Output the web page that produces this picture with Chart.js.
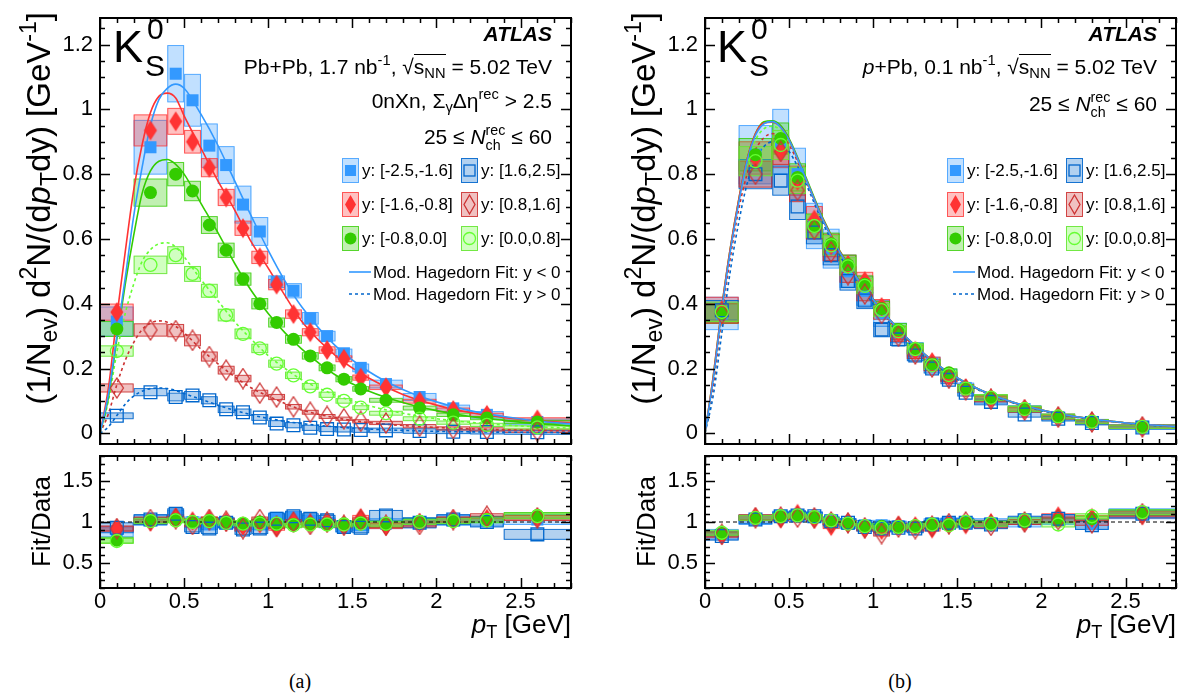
<!DOCTYPE html>
<html>
<head>
<meta charset="utf-8">
<title>K0S spectra, Pb+Pb and p+Pb</title>
<script src="https://cdn.jsdelivr.net/npm/chart.js@4.4.1/dist/chart.umd.min.js"></script>
<style>
  body { margin: 0; background: #fff; }
  #page { position: relative; width: 1189px; height: 698px; overflow: hidden; font-family: "Liberation Sans", Arial, sans-serif; color: #000; }
  canvas { position: absolute; }
  .t { position: absolute; white-space: nowrap; line-height: 1; }
  .t sub, .t sup { font-size: 70%; line-height: 0; }
  .t sub { vertical-align: -0.3em; }
  .t sup { vertical-align: 0.6em; }
  .rot { transform: rotate(-90deg); transform-origin: 0 0; text-align: right; }
  .ss { display: inline-block; font-size: 68%; line-height: 1.05; vertical-align: -0.45em; text-align: left; }
  .rad { border-top: 1.5px solid #000; }
  .leg { position: absolute; font-size: 17px; line-height: 1; white-space: nowrap; }
  .cap { position: absolute; width: 100px; text-align: center; font-family: "Liberation Serif", "Times New Roman", serif; font-size: 20px; }
</style>
</head>
<body>
<div id="page">
  <canvas id="mainA" width="600" height="462" style="left:0;top:0"></canvas>
  <canvas id="ratioA" width="600" height="190" style="left:0;top:438px"></canvas>
  <canvas id="mainB" width="584" height="462" style="left:605px;top:0"></canvas>
  <canvas id="ratioB" width="584" height="190" style="left:605px;top:438px"></canvas>

  <!-- panel (a) labels -->
  <div class="t" style="left:113px;top:24px;font-size:45px">K</div>
  <div class="t" style="left:147px;top:14px;font-size:30px">0</div>
  <div class="t" style="left:145px;top:51px;font-size:30px">S</div>
  <div class="t" style="right:637px;top:23px;font-size:21px;font-weight:bold;font-style:italic">ATLAS</div>
  <div class="t" style="right:637px;top:56px;font-size:21px">Pb+Pb, 1.7 nb<sup>-1</sup>, √<span class="rad">s<sub>NN</sub></span> = 5.02 TeV</div>
  <div class="t" style="right:637px;top:90px;font-size:21px">0nXn, Σ<sub>γ</sub>Δη<sup>rec</sup> &gt; 2.5</div>
  <div class="t" style="right:637px;top:123px;font-size:21px">25 ≤ <i>N</i><span class="ss">rec<br>ch</span> ≤ 60</div>
  <div class="t rot" style="left:22px;top:432px;width:420px;font-size:33px">(1/N<sub>ev</sub>) d<sup>2</sup>N/(d<i>p</i><sub>T</sub>dy) [GeV<sup>-1</sup>]</div>
  <div class="t rot" style="left:28px;top:596px;width:120px;font-size:26px">Fit/Data</div>
  <div class="t" style="right:618px;top:611px;font-size:26px"><i>p</i><sub>T</sub> [GeV]</div>
  <div class="cap" style="left:250px;top:670px">(a)</div>

  <!-- panel (b) labels -->
  <div class="t" style="left:717px;top:24px;font-size:45px">K</div>
  <div class="t" style="left:751px;top:14px;font-size:30px">0</div>
  <div class="t" style="left:749px;top:51px;font-size:30px">S</div>
  <div class="t" style="right:32px;top:23px;font-size:21px;font-weight:bold;font-style:italic">ATLAS</div>
  <div class="t" style="right:32px;top:56px;font-size:21px"><i>p</i>+Pb, 0.1 nb<sup>-1</sup>, √<span class="rad">s<sub>NN</sub></span> = 5.02 TeV</div>
  <div class="t" style="right:32px;top:90px;font-size:21px">25 ≤ <i>N</i><span class="ss">rec<br>ch</span> ≤ 60</div>
  <div class="t rot" style="left:627px;top:432px;width:420px;font-size:33px">(1/N<sub>ev</sub>) d<sup>2</sup>N/(d<i>p</i><sub>T</sub>dy) [GeV<sup>-1</sup>]</div>
  <div class="t rot" style="left:633px;top:596px;width:120px;font-size:26px">Fit/Data</div>
  <div class="t" style="right:13px;top:611px;font-size:26px"><i>p</i><sub>T</sub> [GeV]</div>
  <div class="cap" style="left:850px;top:670px">(b)</div>
</div>

<script>
// pT binning
const ptEdges = [0, 0.2, 0.4, 0.5, 0.6, 0.7, 0.8, 0.9, 1.0, 1.1, 1.2, 1.3, 1.4, 1.5, 1.6, 1.8, 2.0, 2.2, 2.4, 2.8];
const ptCenters = [0.1, 0.3, 0.45, 0.55, 0.65, 0.75, 0.85, 0.95, 1.05, 1.15, 1.25, 1.35, 1.45, 1.55, 1.7, 1.9, 2.1, 2.3, 2.6];
const fitPt = [0, 0.05, 0.1, 0.15, 0.2, 0.25, 0.3, 0.35, 0.4, 0.45, 0.5, 0.6, 0.7, 0.8, 0.9, 1.0, 1.1, 1.2, 1.4, 1.6, 1.8, 2.0, 2.2, 2.4, 2.6, 2.8];
const yBins = ['y: [-2.5,-1.6]', 'y: [-1.6,-0.8]', 'y: [-0.8,0.0]', 'y: [1.6,2.5]', 'y: [0.8,1.6]', 'y: [0.0,0.8]'];
const fitLabels = ['Mod. Hagedorn Fit: y < 0', 'Mod. Hagedorn Fit: y > 0'];

// tick labels
const specTicks = [0, 0.2, 0.4, 0.6, 0.8, 1, 1.2];
const ratioTicks = [0.5, 1, 1.5];
const ptTicks = [0, 0.5, 1, 1.5, 2, 2.5];

// (a) Pb+Pb spectra
const pbpbYm25 = [0.345, 0.883, 1.11, 1.028, 0.888, 0.828, 0.706, 0.623, 0.468, 0.440, 0.355, 0.300, 0.247, 0.202, 0.152, 0.112, 0.077, 0.057, 0.035];
const pbpbYm16 = [0.374, 0.935, 0.963, 0.900, 0.820, 0.728, 0.633, 0.543, 0.459, 0.368, 0.312, 0.257, 0.230, 0.172, 0.142, 0.099, 0.072, 0.057, 0.043];
const pbpbYm08 = [0.322, 0.743, 0.800, 0.748, 0.643, 0.565, 0.476, 0.400, 0.342, 0.290, 0.239, 0.202, 0.167, 0.137, 0.102, 0.078, 0.057, 0.047, 0.035];
const pbpbYp16 = [0.054, 0.127, 0.112, 0.117, 0.102, 0.074, 0.065, 0.049, 0.030, 0.025, 0.017, 0.013, 0.012, 0.010, 0.009, 0.007, 0.005, 0.004, 0.003];
const pbpbYp08 = [0.140, 0.319, 0.317, 0.287, 0.237, 0.195, 0.169, 0.124, 0.112, 0.082, 0.065, 0.052, 0.045, 0.037, 0.032, 0.022, 0.015, 0.012, 0.008];
const pbpbYp00 = [0.254, 0.520, 0.550, 0.492, 0.440, 0.365, 0.307, 0.262, 0.215, 0.179, 0.145, 0.119, 0.100, 0.079, 0.062, 0.045, 0.033, 0.026, 0.018];
// (a) systematic half-heights
const pbpbSysYm25 = [0.045, 0.083, 0.087, 0.080, 0.067, 0.057, 0.057, 0.043, 0.018, 0.022, 0.018, 0.015, 0.013, 0.012, 0.012, 0.011, 0.010, 0.010, 0.009];
const pbpbSysYm16 = [0.025, 0.048, 0.040, 0.035, 0.028, 0.025, 0.022, 0.019, 0.016, 0.013, 0.011, 0.010, 0.009, 0.008, 0.007, 0.006, 0.006, 0.005, 0.005];
const pbpbSysYm08 = [0.023, 0.042, 0.036, 0.030, 0.026, 0.022, 0.019, 0.016, 0.014, 0.012, 0.010, 0.009, 0.008, 0.007, 0.006, 0.006, 0.005, 0.005, 0.005];
const pbpbSysYp16 = [0.009, 0.011, 0.012, 0.012, 0.011, 0.010, 0.010, 0.009, 0.009, 0.008, 0.008, 0.008, 0.008, 0.007, 0.007, 0.007, 0.006, 0.006, 0.006];
const pbpbSysYp08 = [0.0125, 0.019, 0.019, 0.017, 0.014, 0.012, 0.010, 0.009, 0.008, 0.007, 0.006, 0.006, 0.005, 0.005, 0.005, 0.005, 0.005, 0.005, 0.005];
const pbpbSysYp00 = [0.016, 0.027, 0.026, 0.023, 0.020, 0.018, 0.015, 0.013, 0.011, 0.010, 0.009, 0.008, 0.007, 0.006, 0.006, 0.006, 0.005, 0.005, 0.005];
// (a) fit curves read at fitPt
const pbpbFitYm25 = [0, 0.12, 0.30, 0.48, 0.67, 0.82, 0.95, 1.03, 1.065, 1.078, 1.065, 0.985, 0.89, 0.78, 0.67, 0.565, 0.47, 0.39, 0.27, 0.19, 0.135, 0.097, 0.07, 0.052, 0.038, 0.029];
const pbpbFitYm16 = [0, 0.14, 0.36, 0.56, 0.75, 0.89, 0.99, 1.04, 1.05, 1.035, 0.98, 0.88, 0.78, 0.69, 0.59, 0.51, 0.425, 0.345, 0.24, 0.17, 0.12, 0.087, 0.064, 0.049, 0.039, 0.032];
const pbpbFitYm08 = [0, 0.11, 0.29, 0.46, 0.61, 0.74, 0.81, 0.84, 0.845, 0.83, 0.80, 0.71, 0.62, 0.525, 0.44, 0.37, 0.31, 0.26, 0.18, 0.13, 0.095, 0.07, 0.052, 0.04, 0.03, 0.023];
const pbpbFitYp16 = [0, 0.02, 0.055, 0.09, 0.115, 0.13, 0.138, 0.14, 0.138, 0.132, 0.123, 0.105, 0.087, 0.071, 0.057, 0.046, 0.037, 0.03, 0.02, 0.013, 0.009, 0.006, 0.0045, 0.0035, 0.0027, 0.002];
const pbpbFitYp08 = [0, 0.06, 0.15, 0.225, 0.28, 0.32, 0.34, 0.347, 0.343, 0.33, 0.31, 0.26, 0.215, 0.175, 0.14, 0.115, 0.092, 0.072, 0.048, 0.033, 0.024, 0.018, 0.014, 0.011, 0.009, 0.007];
const pbpbFitYp00 = [0, 0.10, 0.25, 0.37, 0.46, 0.53, 0.567, 0.585, 0.588, 0.575, 0.545, 0.475, 0.41, 0.345, 0.29, 0.24, 0.2, 0.165, 0.118, 0.085, 0.062, 0.045, 0.034, 0.026, 0.02, 0.016];
// (a) fit / data
const pbpbRatioYm25 = [0.88, 1.02, 1.08, 1.00, 0.97, 0.99, 0.95, 0.97, 1.05, 1.06, 1.02, 0.99, 0.94, 0.96, 0.98, 0.99, 1.02, 1.01, 1.03];
const pbpbRatioYm16 = [0.92, 1.00, 1.06, 1.01, 1.03, 1.00, 0.95, 0.98, 0.93, 1.00, 0.98, 0.99, 0.96, 1.05, 0.95, 0.99, 1.03, 1.04, 1.05];
const pbpbRatioYm08 = [0.78, 1.02, 1.03, 1.00, 1.02, 1.00, 0.98, 1.00, 0.97, 0.97, 0.98, 0.97, 0.98, 0.99, 0.97, 1.01, 1.02, 1.03, 1.08];
const pbpbRatioYp16 = [0.93, 1.03, 1.10, 0.94, 0.92, 0.99, 0.91, 0.92, 1.04, 1.07, 1.04, 1.02, 0.94, 0.93, 1.08, 0.99, 1.03, 1.00, 0.85];
const pbpbRatioYp08 = [0.92, 1.03, 1.04, 0.97, 1.03, 1.01, 0.92, 1.03, 0.95, 1.00, 0.97, 1.00, 0.96, 1.02, 0.96, 0.97, 1.03, 1.07, 1.05];
const pbpbRatioYp00 = [0.77, 1.01, 1.02, 1.00, 1.01, 0.99, 0.98, 0.98, 0.98, 0.96, 0.97, 0.97, 0.97, 0.98, 0.98, 1.00, 1.01, 1.02, 1.07];
const pbpbRatioSys = [0.06, 0.03, 0.035, 0.06, 0.03, 0.03];

// (b) p+Pb spectra
const ppbYm25 = [0.37, 0.86, 0.90, 0.80, 0.64, 0.57, 0.50, 0.44, 0.37, 0.31, 0.255, 0.215, 0.18, 0.14, 0.105, 0.075, 0.050, 0.035, 0.020];
const ppbYm16 = [0.38, 0.85, 0.87, 0.78, 0.66, 0.58, 0.52, 0.47, 0.39, 0.31, 0.255, 0.22, 0.175, 0.14, 0.108, 0.075, 0.052, 0.036, 0.020];
const ppbYm08 = [0.37, 0.86, 0.91, 0.79, 0.64, 0.585, 0.52, 0.46, 0.385, 0.32, 0.262, 0.215, 0.187, 0.14, 0.11, 0.076, 0.052, 0.036, 0.020];
const ppbYp16 = [0.38, 0.80, 0.78, 0.70, 0.62, 0.55, 0.47, 0.41, 0.32, 0.29, 0.24, 0.20, 0.165, 0.125, 0.097, 0.058, 0.045, 0.032, 0.018];
const ppbYp08 = [0.37, 0.80, 0.87, 0.75, 0.63, 0.56, 0.49, 0.43, 0.37, 0.30, 0.245, 0.205, 0.17, 0.135, 0.105, 0.072, 0.050, 0.035, 0.020];
const ppbYp00 = [0.375, 0.84, 0.89, 0.78, 0.64, 0.58, 0.515, 0.455, 0.38, 0.315, 0.26, 0.21, 0.18, 0.138, 0.11, 0.075, 0.052, 0.036, 0.020];
const ppbSysYm25 = [0.05, 0.09, 0.10, 0.08, 0.07, 0.06, 0.05, 0.045, 0.04, 0.03, 0.025, 0.02, 0.018, 0.015, 0.012, 0.01, 0.009, 0.008, 0.007];
const ppbSysYm16 = [0.04, 0.05, 0.05, 0.045, 0.04, 0.035, 0.03, 0.027, 0.023, 0.02, 0.017, 0.015, 0.013, 0.011, 0.009, 0.008, 0.007, 0.006, 0.005];
const ppbSysYm08 = [0.03, 0.05, 0.048, 0.042, 0.037, 0.033, 0.03, 0.026, 0.022, 0.019, 0.016, 0.014, 0.012, 0.01, 0.009, 0.008, 0.007, 0.006, 0.005];
const ppbSysYp16 = [0.03, 0.045, 0.045, 0.04, 0.035, 0.03, 0.028, 0.025, 0.022, 0.019, 0.016, 0.014, 0.012, 0.01, 0.009, 0.008, 0.007, 0.006, 0.005];
const ppbSysYp08 = [0.03, 0.04, 0.04, 0.035, 0.03, 0.027, 0.024, 0.021, 0.018, 0.016, 0.014, 0.012, 0.011, 0.009, 0.008, 0.007, 0.006, 0.005, 0.005];
const ppbSysYp00 = [0.03, 0.045, 0.045, 0.04, 0.035, 0.03, 0.027, 0.024, 0.02, 0.018, 0.015, 0.013, 0.012, 0.01, 0.009, 0.008, 0.007, 0.006, 0.005];
const ppbFitYm25 = [0, 0.17, 0.38, 0.56, 0.71, 0.84, 0.92, 0.955, 0.962, 0.945, 0.905, 0.785, 0.66, 0.56, 0.482, 0.413, 0.35, 0.295, 0.205, 0.143, 0.101, 0.072, 0.052, 0.038, 0.028, 0.021];
const ppbFitYm16 = [0, 0.18, 0.39, 0.57, 0.72, 0.845, 0.925, 0.958, 0.96, 0.945, 0.905, 0.785, 0.662, 0.562, 0.483, 0.414, 0.35, 0.295, 0.205, 0.143, 0.101, 0.072, 0.052, 0.038, 0.028, 0.021];
const ppbFitYm08 = [0, 0.18, 0.39, 0.57, 0.72, 0.845, 0.925, 0.962, 0.965, 0.95, 0.91, 0.79, 0.665, 0.565, 0.485, 0.415, 0.35, 0.295, 0.205, 0.143, 0.101, 0.072, 0.052, 0.038, 0.028, 0.021];
const ppbFitYp16 = [0, 0.12, 0.31, 0.50, 0.65, 0.77, 0.845, 0.885, 0.90, 0.895, 0.87, 0.77, 0.65, 0.55, 0.47, 0.40, 0.34, 0.285, 0.20, 0.14, 0.099, 0.07, 0.05, 0.037, 0.027, 0.02];
const ppbFitYp08 = [0, 0.15, 0.36, 0.54, 0.69, 0.80, 0.875, 0.912, 0.925, 0.92, 0.89, 0.78, 0.66, 0.56, 0.48, 0.41, 0.345, 0.29, 0.203, 0.142, 0.10, 0.071, 0.051, 0.037, 0.028, 0.021];
const ppbFitYp00 = [0, 0.16, 0.37, 0.56, 0.71, 0.83, 0.905, 0.94, 0.948, 0.935, 0.90, 0.785, 0.662, 0.563, 0.483, 0.413, 0.35, 0.293, 0.205, 0.143, 0.101, 0.072, 0.052, 0.038, 0.028, 0.021];
const ppbRatioYm25 = [0.85, 1.03, 1.07, 1.08, 1.06, 1.00, 0.98, 0.96, 0.96, 0.95, 0.94, 0.98, 0.99, 0.99, 0.98, 1.00, 1.03, 0.97, 1.10];
const ppbRatioYm16 = [0.84, 1.06, 1.04, 1.10, 1.04, 0.95, 0.99, 0.92, 0.90, 0.96, 0.95, 0.92, 0.97, 0.97, 0.99, 1.00, 1.07, 1.05, 1.08];
const ppbRatioYm08 = [0.86, 1.05, 1.07, 1.08, 1.06, 1.00, 0.99, 0.95, 0.95, 0.93, 0.94, 0.97, 0.97, 0.99, 0.98, 1.00, 1.02, 1.04, 1.11];
const ppbRatioYp16 = [0.83, 1.03, 1.07, 1.08, 1.07, 1.01, 0.99, 0.94, 0.92, 0.93, 0.92, 0.97, 0.99, 0.99, 0.97, 1.02, 1.04, 0.96, 1.10];
const ppbRatioYp08 = [0.85, 1.05, 1.06, 1.06, 1.05, 1.00, 0.99, 0.93, 0.86, 0.94, 0.92, 0.95, 0.98, 1.00, 0.96, 1.00, 1.03, 0.99, 1.10];
const ppbRatioYp00 = [0.87, 1.05, 1.07, 1.08, 1.06, 1.02, 0.98, 0.95, 0.93, 0.94, 0.95, 0.97, 0.96, 1.00, 0.98, 1.02, 0.97, 1.07, 1.12];
const ppbRatioSys = [0.06, 0.03, 0.03, 0.05, 0.03, 0.03];

// one style per rapidity bin, same order as yBins
const styles = [
  { color: '#3399ff', line: 'rgba(51,153,255,0.8)', fill: 'rgba(51,153,255,0.3)', marker: 'square', open: false },
  { color: '#ff3333', line: 'rgba(255,51,51,0.8)', fill: 'rgba(255,51,51,0.3)', marker: 'diamond', open: false },
  { color: '#33cc00', line: 'rgba(51,204,0,0.8)', fill: 'rgba(51,204,0,0.3)', marker: 'circle', open: false },
  { color: '#0066cc', line: 'rgba(0,102,204,0.9)', fill: 'rgba(0,102,204,0.3)', marker: 'square', open: true },
  { color: '#cc3333', line: 'rgba(204,51,51,0.9)', fill: 'rgba(204,51,51,0.3)', marker: 'diamond', open: true },
  { color: '#66ff33', line: 'rgba(102,230,51,0.9)', fill: 'rgba(102,255,51,0.3)', marker: 'circle', open: true }
];
const FONT = '"Liberation Sans", Arial, sans-serif';

function diamond(color, open) {
  const c = document.createElement('canvas');
  c.width = 16; c.height = 22;
  const g = c.getContext('2d');
  g.beginPath();
  g.moveTo(8, 1); g.lineTo(14.5, 11); g.lineTo(8, 21); g.lineTo(1.5, 11); g.closePath();
  if (open) { g.strokeStyle = color; g.lineWidth = 1.3; g.stroke(); }
  else { g.fillStyle = color; g.fill(); }
  return c;
}

// later series are drawn on top (ROOT draw order), fits sit under the markers
function markerSet(vals, sys, st, k) {
  const style = st.marker === 'diamond' ? diamond(st.color, st.open) : (st.marker === 'square' ? 'rect' : 'circle');
  return {
    data: ptCenters.map((x, i) => ({ x: x, y: vals[i] })),
    sys: sys, boxFill: st.fill, boxLine: st.line,
    order: -k,
    showLine: false,
    pointStyle: style,
    pointRadius: st.marker === 'square' ? (st.open ? 9 : 8.5) : 6.5,
    pointBackgroundColor: st.open ? 'rgba(0,0,0,0)' : st.color,
    pointBorderColor: st.color,
    pointBorderWidth: st.open ? 1.3 : 0
  };
}

function fitSet(vals, color, dashed) {
  return {
    data: fitPt.map((x, i) => ({ x: x, y: vals[i] })),
    order: 10,
    showLine: true, fill: false,
    borderColor: color, borderWidth: 1.6,
    borderDash: dashed ? [3, 3] : [],
    pointRadius: 0,
    cubicInterpolationMode: 'monotone'
  };
}

// systematic boxes drawn under the markers
const boxPlugin = {
  id: 'sysBoxes',
  beforeDatasetsDraw(chart) {
    const { ctx, chartArea: a, scales: { x, y } } = chart;
    ctx.save();
    ctx.beginPath();
    ctx.rect(a.left, a.top, a.right - a.left, a.bottom - a.top);
    ctx.clip();
    chart.data.datasets.forEach(ds => {
      if (ds.sys === undefined) return;
      ds.data.forEach((p, i) => {
        const s = Array.isArray(ds.sys) ? ds.sys[i] : ds.sys;
        const x0 = x.getPixelForValue(ptEdges[i]), x1 = x.getPixelForValue(ptEdges[i + 1]);
        const y0 = y.getPixelForValue(p.y + s), y1 = y.getPixelForValue(p.y - s);
        ctx.fillStyle = ds.boxFill;
        ctx.fillRect(x0, y0, x1 - x0, y1 - y0);
        ctx.strokeStyle = ds.boxLine;
        ctx.lineWidth = 1;
        ctx.strokeRect(x0 + 0.5, y0, x1 - x0 - 1, y1 - y0);
      });
    });
    const opts = chart.options.plugins.frame;
    if (opts.refLine !== undefined) {
      const py = y.getPixelForValue(opts.refLine);
      ctx.strokeStyle = '#000';
      ctx.lineWidth = 1;
      ctx.setLineDash([4, 3]);
      ctx.beginPath(); ctx.moveTo(a.left, py); ctx.lineTo(a.right, py); ctx.stroke();
      ctx.setLineDash([]);
    }
    ctx.restore();
  }
};

// ROOT-like frame with inward ticks on all four sides
const framePlugin = {
  id: 'frame',
  afterDraw(chart, args, opts) {
    const { ctx, chartArea: a, scales: { x, y } } = chart;
    ctx.save();
    ctx.strokeStyle = '#000';
    ctx.lineWidth = 1.5;
    ctx.beginPath();
    const xt = (v, len) => {
      const px = Math.round(x.getPixelForValue(v)) + 0.5;
      ctx.moveTo(px, a.bottom); ctx.lineTo(px, a.bottom - len);
      ctx.moveTo(px, a.top); ctx.lineTo(px, a.top + len);
    };
    const yt = (v, len) => {
      const py = Math.round(y.getPixelForValue(v)) + 0.5;
      ctx.moveTo(a.left, py); ctx.lineTo(a.left + len, py);
      ctx.moveTo(a.right, py); ctx.lineTo(a.right - len, py);
    };
    for (let i = 0; i <= 28; i++) xt(i / 10, i % 5 === 0 ? 10 : 5);
    for (let i = 0; ; i++) {
      const v = opts.yFrom + i * opts.yMinor;
      if (v > opts.yTo + 1e-9) break;
      const major = Math.abs(v / opts.yMajor - Math.round(v / opts.yMajor)) < 1e-6;
      yt(v, major ? 10 : 5);
    }
    ctx.stroke();
    ctx.lineWidth = 2;
    ctx.strokeRect(a.left, a.top, a.right - a.left, a.bottom - a.top);
    ctx.restore();
  }
};

const fmt = v => String(Math.round(v * 10) / 10);

function mainChart(id, padRight, values, sys, fits) {
  const markers = values.map((v, k) => markerSet(v, sys[k], styles[k], k));
  const lines = fits.map((f, k) => fitSet(f, styles[k].color, k >= 3));
  return new Chart(document.getElementById(id), {
    type: 'scatter',
    data: { datasets: markers.concat(lines) },
    options: {
      responsive: false, animation: false, devicePixelRatio: 1, events: [],
      layout: { padding: { left: 0, top: 12, right: padRight, bottom: 12 } },
      plugins: {
        legend: { display: false }, tooltip: { enabled: false },
        frame: { yFrom: 0, yTo: 1.25, yMinor: 0.05, yMajor: 0.2 }
      },
      scales: {
        x: { type: 'linear', min: 0, max: 2.8, display: false },
        y: {
          type: 'linear', min: -0.033, max: 1.282,
          afterBuildTicks: s => { s.ticks = specTicks.map(v => ({ value: v })); },
          afterFit: s => { s.width = 100; },
          grid: { display: false, drawTicks: false }, border: { display: false },
          ticks: { font: { family: FONT, size: 22, lineHeight: 1 }, color: '#000', padding: 7, callback: fmt }
        }
      }
    },
    plugins: [boxPlugin, framePlugin]
  });
}

function ratioChart(id, padRight, ratios, sys) {
  const markers = ratios.map((v, k) => markerSet(v, sys[k], styles[k], k));
  return new Chart(document.getElementById(id), {
    type: 'scatter',
    data: { datasets: markers },
    options: {
      responsive: false, animation: false, devicePixelRatio: 1, events: [],
      layout: { padding: { left: 0, top: 12, right: padRight, bottom: 0 } },
      plugins: {
        legend: { display: false }, tooltip: { enabled: false },
        frame: { yFrom: 0.2, yTo: 1.8, yMinor: 0.1, yMajor: 0.5, refLine: 1 }
      },
      scales: {
        x: {
          type: 'linear', min: 0, max: 2.8,
          afterBuildTicks: s => { s.ticks = ptTicks.map(v => ({ value: v })); },
          afterFit: s => { s.height = 40; },
          grid: { display: false, drawTicks: false }, border: { display: false },
          ticks: { font: { family: FONT, size: 22, lineHeight: 1 }, color: '#000', padding: 3, maxRotation: 0, autoSkip: false, callback: fmt }
        },
        y: {
          type: 'linear', min: 0.2, max: 1.8,
          afterBuildTicks: s => { s.ticks = ratioTicks.map(v => ({ value: v })); },
          afterFit: s => { s.width = 100; },
          grid: { display: false, drawTicks: false }, border: { display: false },
          ticks: { font: { family: FONT, size: 22, lineHeight: 1 }, color: '#000', padding: 7, callback: fmt }
        }
      }
    },
    plugins: [boxPlugin, framePlugin]
  });
}

mainChart('mainA', 29,
  [pbpbYm25, pbpbYm16, pbpbYm08, pbpbYp16, pbpbYp08, pbpbYp00],
  [pbpbSysYm25, pbpbSysYm16, pbpbSysYm08, pbpbSysYp16, pbpbSysYp08, pbpbSysYp00],
  [pbpbFitYm25, pbpbFitYm16, pbpbFitYm08, pbpbFitYp16, pbpbFitYp08, pbpbFitYp00]);
ratioChart('ratioA', 29,
  [pbpbRatioYm25, pbpbRatioYm16, pbpbRatioYm08, pbpbRatioYp16, pbpbRatioYp08, pbpbRatioYp00], pbpbRatioSys);
mainChart('mainB', 13,
  [ppbYm25, ppbYm16, ppbYm08, ppbYp16, ppbYp08, ppbYp00],
  [ppbSysYm25, ppbSysYm16, ppbSysYm08, ppbSysYp16, ppbSysYp08, ppbSysYp00],
  [ppbFitYm25, ppbFitYm16, ppbFitYm08, ppbFitYp16, ppbFitYp08, ppbFitYp00]);
ratioChart('ratioB', 13,
  [ppbRatioYm25, ppbRatioYm16, ppbRatioYm08, ppbRatioYp16, ppbRatioYp08, ppbRatioYp00], ppbRatioSys);

// legends (HTML text with small SVG swatches)
function swatch(st) {
  const stroke = st.open ? `fill="none" stroke="${st.color}" stroke-width="1.3"` : `fill="${st.color}"`;
  let m;
  if (st.marker === 'square') m = `<rect x="3" y="7" width="11" height="11" ${stroke}/>`;
  else if (st.marker === 'diamond') m = `<polygon points="8.5,3 14,12.5 8.5,22 3,12.5" ${stroke}/>`;
  else m = `<circle cx="8.5" cy="12.5" r="6" ${stroke}/>`;
  return `<svg width="17" height="25" style="display:block"><rect x="0.5" y="0.5" width="16" height="24" fill="${st.fill}" stroke="${st.line}"/>${m}</svg>`;
}
function legend(col1, col2, lineX) {
  const page = document.getElementById('page');
  const rowTops = [158, 192, 226];
  yBins.forEach((name, k) => {
    const left = k < 3 ? col1 : col2;
    const top = rowTops[k % 3];
    const sw = document.createElement('div');
    sw.style.cssText = `position:absolute;left:${left}px;top:${top}px`;
    sw.innerHTML = swatch(styles[k]);
    page.appendChild(sw);
    const tx = document.createElement('div');
    tx.className = 'leg';
    tx.style.left = (left + 20) + 'px';
    tx.style.top = (top + 12.5 - 8.4) + 'px';
    tx.textContent = name;
    page.appendChild(tx);
  });
  [272, 294].forEach((cy, j) => {
    const ln = document.createElement('div');
    ln.style.cssText = `position:absolute;left:${lineX}px;top:${cy - 2}px`;
    ln.innerHTML = `<svg width="22" height="4" style="display:block"><line x1="0" y1="2" x2="22" y2="2" stroke="${j === 0 ? styles[0].color : styles[3].color}" stroke-width="1.6" ${j === 1 ? 'stroke-dasharray="3,3"' : ''}/></svg>`;
    page.appendChild(ln);
    const tx = document.createElement('div');
    tx.className = 'leg';
    tx.style.left = (lineX + 24) + 'px';
    tx.style.top = (cy - 8.4) + 'px';
    tx.textContent = fitLabels[j];
    page.appendChild(tx);
  });
}
legend(342, 461, 349);
legend(947, 1066, 953);
</script>
</body>
</html>
